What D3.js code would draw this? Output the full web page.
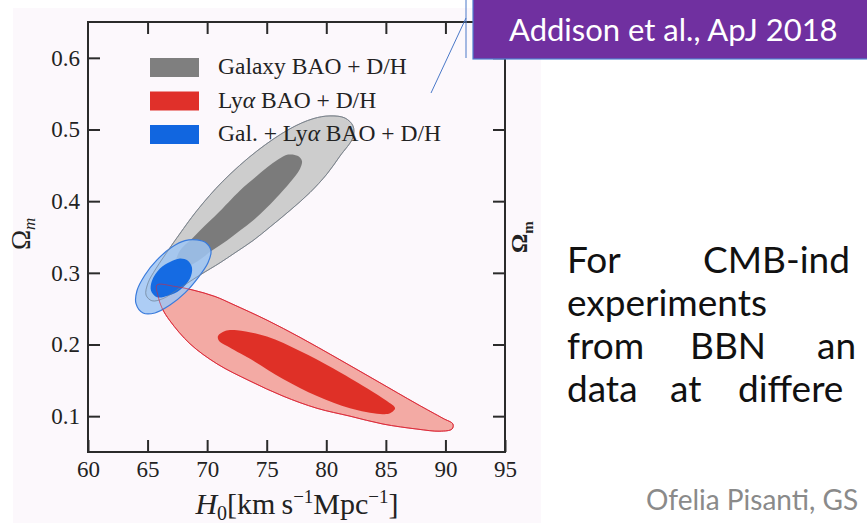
<!DOCTYPE html>
<html>
<head>
<meta charset="utf-8">
<script src="https://cdn.jsdelivr.net/npm/d3@7"></script>
<style>
  html, body { margin: 0; padding: 0; background: #fff; overflow: hidden; }
  svg { display: block; }
</style>
</head>
<body>
<svg id="slide" width="867" height="525"></svg>
<script>
// contour outlines, [H0, Omega_m]
var galOuter = [[80.31,0.519],[81.57,0.516],[82.24,0.505],[82.24,0.489],[81.15,0.463],[80.06,0.438],
  [78.63,0.412],[76.95,0.387],[75.28,0.364],[73.85,0.345],[72.34,0.328],[71.08,0.314],[69.40,0.297],
  [67.72,0.279],[66.29,0.264],[65.37,0.261],[64.87,0.269],[65.04,0.286],[65.71,0.306],[66.88,0.335],
  [67.47,0.349],[69.15,0.387],[71.33,0.428],[74.18,0.470],[76.95,0.501],[78.88,0.515]];
var galInner = [[76.79,0.465],[77.63,0.463],[77.96,0.456],[77.79,0.445],[76.95,0.426],[76.11,0.410],
  [75.02,0.391],[73.85,0.373],[72.76,0.359],[71.67,0.345],[70.41,0.331],[68.98,0.314],[67.89,0.306],
  [67.39,0.314],[67.72,0.331],[68.81,0.349],[69.82,0.366],[70.83,0.382],[72.76,0.415],[74.02,0.433],
  [75.02,0.447],[75.95,0.458]];
var lyaOuter = [[65.79,0.283],[67.30,0.281],[68.81,0.276],[70.66,0.267],[72.17,0.256],[75.02,0.234],
  [77.79,0.210],[80.90,0.181],[84.26,0.149],[87.61,0.117],[89.79,0.097],[90.63,0.089],[90.55,0.082],
  [89.54,0.079],[87.61,0.082],[84.76,0.089],[81.99,0.100],[79.22,0.111],[76.37,0.128],[73.60,0.149],
  [70.83,0.173],[68.56,0.201],[66.88,0.233],[66.21,0.251],[65.88,0.268]];
var lyaInner = [[70.91,0.212],[71.50,0.219],[72.51,0.220],[75.02,0.211],[77.79,0.191],[80.56,0.167],
  [83.42,0.139],[85.09,0.121],[85.77,0.111],[85.35,0.104],[84.51,0.103],[81.99,0.111],[79.22,0.128],
  [76.37,0.152],[73.60,0.180],[71.67,0.198],[71.00,0.205]];
var combOuter = [[69.15,0.346],[69.90,0.342],[70.32,0.331],[70.07,0.314],[69.23,0.293],[68.14,0.272],
  [66.88,0.255],[65.62,0.244],[64.62,0.244],[64.03,0.257],[64.11,0.275],[64.78,0.297],[65.79,0.318],
  [67.05,0.336],[68.14,0.345]];
var combInner = [[67.72,0.320],[68.39,0.317],[68.73,0.307],[68.56,0.292],[67.72,0.276],[66.71,0.268],
  [65.79,0.266],[65.29,0.275],[65.37,0.289],[66.04,0.306],[66.88,0.315]];

var xTicks = [60, 65, 70, 75, 80, 85, 90, 95];
var yTicks = [0.1, 0.2, 0.3, 0.4, 0.5, 0.6];
var legendNames = ["Galaxy", "Lya", "Gal. + Lya"];
var legendColors = ["#7f7f7f", "#e0302a", "#1166e0"];

// what is visible of the justified slide text
var bodyLines = [["For", "CMB-ind"], ["experiments"], ["from", "BBN", "an"], ["data", "at", "differe"]];

var svg = d3.select("#slide");

// figure backdrop (the pasted image on the slide)
svg.append("rect").attr("x", 13).attr("y", 8).attr("width", 528).attr("height", 515).attr("fill", "#fcf8fc");

var x = d3.scaleLinear().domain([60, 95]).range([88, 505]);
var y = d3.scaleLinear().domain([0.05, 0.65]).range([452, 22]);

var line = d3.line()
  .x(function(d){ return x(d[0]); })
  .y(function(d){ return y(d[1]); })
  .curve(d3.curveCatmullRomClosed.alpha(0.5));

var plot = svg.append("g");

plot.append("path").attr("d", line(galOuter)).attr("fill", "#cdcdcd").attr("stroke", "#8c8c8c").attr("stroke-width", 1);
plot.append("path").attr("d", line(galInner)).attr("fill", "#7b7b7b");
plot.append("path").attr("d", line(lyaOuter)).attr("fill", "#f3aaa4").attr("stroke", "#e0323c").attr("stroke-width", 1);
plot.append("path").attr("d", line(lyaInner)).attr("fill", "#df3027");
plot.append("path").attr("d", line(combOuter)).attr("fill", "#9fc6f3").attr("fill-opacity", 0.85)
  .attr("stroke", "#3a7bdc").attr("stroke-width", 1.2);
plot.append("path").attr("d", line(combInner)).attr("fill", "#0d66e2").attr("fill-opacity", 0.95);
// outlines that show through the combined contours
plot.append("path").attr("d", line(galOuter)).attr("fill", "none").attr("stroke", "#6f7f90").attr("stroke-opacity", 0.6);
plot.append("path").attr("d", line(lyaOuter)).attr("fill", "none").attr("stroke", "#d8283a").attr("stroke-opacity", 0.6);

// axes, ticks pointing inward
var serif = "'Liberation Serif', 'Times New Roman', serif";
function styleAxis(g) {
  g.select(".domain").remove();
  g.selectAll(".tick line").attr("stroke", "#2b2b2b").attr("stroke-width", 2);
  g.selectAll(".tick text").attr("fill", "#222").style("font-family", serif).style("font-size", "23px");
}
svg.append("g").attr("transform", "translate(0,452)")
  .call(d3.axisBottom(x).tickValues(xTicks).tickSizeInner(-12).tickSizeOuter(0).tickPadding(9).tickFormat(d3.format("d")))
  .call(styleAxis);
svg.append("g").attr("transform", "translate(0,22)")
  .call(d3.axisTop(x).tickValues(xTicks.slice(1, -1)).tickSizeInner(-12).tickSizeOuter(0).tickFormat(""))
  .call(styleAxis);
svg.append("g").attr("transform", "translate(88,0)")
  .call(d3.axisLeft(y).tickValues(yTicks).tickSizeInner(-12).tickSizeOuter(0).tickPadding(8).tickFormat(d3.format(".1f")))
  .call(styleAxis);
svg.append("g").attr("transform", "translate(505,0)")
  .call(d3.axisRight(y).tickValues(yTicks).tickSizeInner(-12).tickSizeOuter(0).tickFormat(""))
  .call(styleAxis);
svg.append("rect").attr("x", 88).attr("y", 22).attr("width", 417).attr("height", 430)
  .attr("fill", "none").attr("stroke", "#2b2b2b").attr("stroke-width", 2);

// legend
var leg = svg.append("g").attr("font-family", serif).attr("font-size", 23.5).attr("fill", "#222");
legendNames.forEach(function(name, i) {
  var yy = 58 + i * 33.5;
  leg.append("rect").attr("x", 150).attr("y", yy).attr("width", 49).attr("height", 19).attr("fill", legendColors[i]);
  var t = leg.append("text").attr("x", 218).attr("y", yy + 16);
  if (name === "Galaxy") {
    t.text("Galaxy BAO + D/H");
  } else {
    t.append("tspan").text(name === "Lya" ? "Ly" : "Gal. + Ly");
    t.append("tspan").attr("font-style", "italic").text("\u03b1");
    t.append("tspan").text(" BAO + D/H");
  }
});

// axis titles
var xt = svg.append("text").attr("x", 297).attr("y", 514).attr("text-anchor", "middle")
  .attr("font-family", serif).attr("font-size", 30).attr("fill", "#222");
xt.append("tspan").attr("font-style", "italic").text("H");
xt.append("tspan").attr("font-size", 20).attr("dy", 6).text("0");
xt.append("tspan").attr("dy", -6).text("[km\u2009s");
xt.append("tspan").attr("font-size", 19).attr("dy", -11).text("\u22121");
xt.append("tspan").attr("dy", 11).text("Mpc");
xt.append("tspan").attr("font-size", 19).attr("dy", -11).text("\u22121");
xt.append("tspan").attr("dy", 11).text("]");

var yt = svg.append("text").attr("transform", "translate(30,250) rotate(-90)")
  .attr("font-family", serif).attr("font-size", 27).attr("fill", "#222");
yt.append("tspan").text("\u03a9");
yt.append("tspan").attr("font-size", 17).attr("font-style", "italic").attr("dy", 5).text("m");

var yt2 = svg.append("text").attr("transform", "translate(527,253) rotate(-90)")
  .attr("font-family", serif).attr("font-size", 24).attr("font-weight", "bold").attr("fill", "#222");
yt2.append("tspan").text("\u03a9");
yt2.append("tspan").attr("font-size", 15).attr("dy", 6).text("m");

// reference box and callout
svg.append("line").attr("x1", 466).attr("y1", 0).attr("x2", 466).attr("y2", 58).attr("stroke", "#4a78c8").attr("stroke-width", 1);
svg.append("line").attr("x1", 466).attr("y1", 18).attr("x2", 431).attr("y2", 93).attr("stroke", "#4a78c8").attr("stroke-width", 1);
svg.append("rect").attr("x", 473).attr("y", -2).attr("width", 400).attr("height", 61)
  .attr("fill", "#7030a0").attr("stroke", "#4f7fd0").attr("stroke-width", 1.2);
var sans = "Lato, 'Open Sans', sans-serif";
svg.append("text").attr("x", 509).attr("y", 41).attr("font-family", sans).attr("font-size", 31)
  .attr("fill", "#fff").text("Addison et al., ApJ 2018");

// slide body text (justified lines, cut by the slide edge)
var wordX = [[567, 703], [567], [567, 690, 817], [567, 670, 738]];
var body = svg.append("g").attr("font-family", sans).attr("font-size", 37).attr("fill", "#111");
bodyLines.forEach(function(words, i) {
  var t = body.append("text").attr("y", 273 + i * 43);
  words.forEach(function(w, j) {
    t.append("tspan").attr("x", wordX[i][j]).text(w);
  });
});

svg.append("text").attr("x", 646).attr("y", 510).attr("font-family", sans).attr("font-size", 28)
  .attr("fill", "#8a8a8a").text("Ofelia Pisanti, GS");
</script>
</body>
</html>
